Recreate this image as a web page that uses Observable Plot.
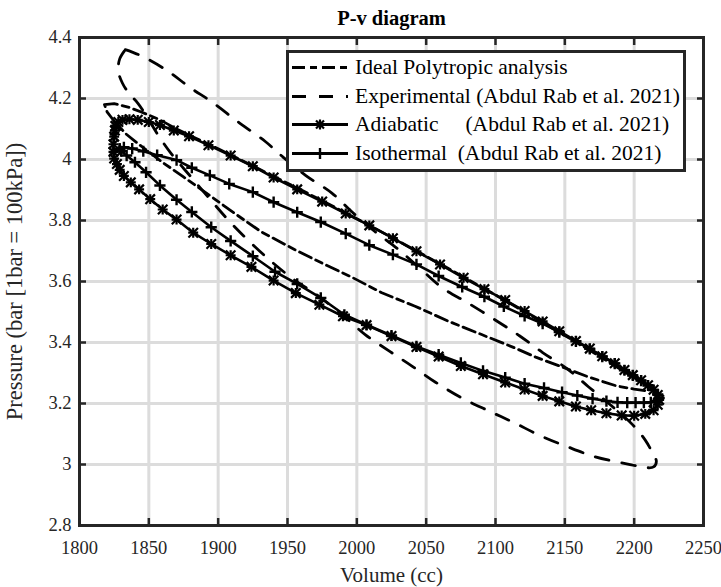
<!DOCTYPE html>
<html><head><meta charset="utf-8">
<script src="https://cdn.jsdelivr.net/npm/d3@7"></script>
<script src="https://cdn.jsdelivr.net/npm/@observablehq/plot@0.6"></script>
<style>
body{margin:0;background:#fff;}
#wrap{position:relative;width:721px;height:587px;}
#legend{position:absolute;left:286px;top:50px;width:394px;height:116px;border:3px solid #262626;background:#fff;font-family:"Liberation Serif",serif;font-size:21.5px;color:#000;}
.row{position:absolute;left:0;width:100%;height:29px;}
.row svg{position:absolute;left:3px;top:0;}
.row span{position:absolute;left:66px;top:0;line-height:29px;white-space:pre;}
</style>
</head><body>
<div id="wrap"><div id="chart"></div>
<div id="legend">
  <div class="row" style="top:0px"><svg width="58" height="29"><line x1="0" y1="14.5" x2="56" y2="14.5" stroke="#000" stroke-width="2.8" stroke-dasharray="13,5,7,5"/></svg><span>Ideal Polytropic analysis</span></div>
  <div class="row" style="top:29px"><svg width="58" height="29"><line x1="0" y1="14.5" x2="56" y2="14.5" stroke="#000" stroke-width="2.8" stroke-dasharray="14,13"/></svg><span>Experimental (Abdul Rab et al. 2021)</span></div>
  <div class="row" style="top:57px"><svg width="58" height="29"><line x1="0" y1="14.5" x2="56" y2="14.5" stroke="#000" stroke-width="2.8"/><path d="M24,10.5L32,18.5M24,18.5L32,10.5M28,9.5V19.5M23,14.5H33" stroke="#000" stroke-width="2.2" fill="none"/></svg><span>Adiabatic     (Abdul Rab et al. 2021)</span></div>
  <div class="row" style="top:86px"><svg width="58" height="29"><line x1="0" y1="14.5" x2="56" y2="14.5" stroke="#000" stroke-width="2.8"/><path d="M28,9V20" stroke="#000" stroke-width="2.4" fill="none"/></svg><span>Isothermal  (Abdul Rab et al. 2021)</span></div>
</div>
</div>
<script>
// Axis ticks
const xTicks = [1800, 1850, 1900, 1950, 2000, 2050, 2100, 2150, 2200, 2250];
const xTickLabels = ["1800", "1850", "1900", "1950", "2000", "2050", "2100", "2150", "2200", "2250"];
const yTicks = [2.8, 3, 3.2, 3.4, 3.6, 3.8, 4, 4.2, 4.4];
const yTickLabels = ["2.8", "3", "3.2", "3.4", "3.6", "3.8", "4", "4.2", "4.4"];

// Ideal Polytropic analysis (dash-dot loop)
const idealV = [1818, 1825, 1835, 1845, 1858, 1870, 1880, 1900, 1920, 1940, 1960, 1980, 2000, 2025, 2050, 2075, 2100, 2125, 2150, 2175, 2195, 2208, 2214,
  2208, 2200, 2187, 2167, 2149, 2129, 2114, 2090, 2066, 2042, 2018, 1996, 1975, 1955, 1931, 1912, 1897, 1875, 1861, 1845, 1834, 1826, 1820, 1818];
const idealP = [4.18, 4.183, 4.172, 4.155, 4.13, 4.1, 4.078, 4.035, 3.99, 3.945, 3.9, 3.853, 3.806, 3.745, 3.683, 3.62, 3.556, 3.49, 3.423, 3.355, 3.298, 3.262, 3.248,
  3.242, 3.247, 3.258, 3.287, 3.318, 3.352, 3.382, 3.426, 3.47, 3.519, 3.563, 3.615, 3.66, 3.705, 3.763, 3.823, 3.872, 3.943, 3.987, 4.042, 4.082, 4.12, 4.155, 4.18];

// Experimental (dashed loop)
const expV = [1833, 1838, 1845, 1863, 1880, 1896, 1915, 1934, 1947, 1963, 1982, 1997, 2013, 2030, 2045, 2062, 2080, 2099, 2117, 2134, 2152, 2167, 2183, 2199, 2208, 2213, 2216, 2214, 2208,
  2198, 2186, 2172, 2152, 2133, 2113, 2095, 2075, 2057, 2040, 2024, 2006, 1991, 1970, 1955, 1940, 1924, 1909, 1895, 1880, 1866, 1856, 1848, 1842, 1836, 1831, 1828, 1829, 1833];
const expP = [4.36, 4.352, 4.339, 4.292, 4.235, 4.187, 4.121, 4.059, 4.007, 3.948, 3.89, 3.826, 3.764, 3.705, 3.645, 3.578, 3.53, 3.476, 3.423, 3.367, 3.313, 3.255, 3.195, 3.13, 3.08, 3.04, 3.01, 2.992, 2.99,
  2.999, 3.01, 3.025, 3.058, 3.093, 3.138, 3.176, 3.22, 3.269, 3.322, 3.37, 3.426, 3.485, 3.56, 3.605, 3.659, 3.725, 3.793, 3.865, 3.945, 4.02, 4.085, 4.145, 4.185, 4.215, 4.25, 4.29, 4.33, 4.36];

// Adiabatic (solid, asterisk markers)
const adiaV = [1826, 1828, 1831, 1836, 1842, 1850, 1858, 1868, 1879, 1893, 1909, 1925, 1940, 1957, 1975, 1992, 2009, 2026, 2043, 2060, 2077, 2092, 2107, 2121, 2134, 2146, 2158, 2168, 2177, 2186, 2193, 2199, 2205, 2210, 2214, 2217, 2218,
  2217, 2214, 2208, 2200, 2191, 2180, 2169, 2158, 2146, 2134, 2121, 2107, 2091, 2075, 2059, 2043, 2025, 2007, 1990, 1973, 1956, 1940, 1924, 1909, 1895, 1882, 1870, 1860, 1851, 1843, 1837, 1832, 1829, 1827, 1825, 1824.5, 1824.5, 1825, 1825.5, 1826];
const adiaP = [4.11, 4.123, 4.13, 4.132, 4.13, 4.123, 4.113, 4.095, 4.076, 4.047, 4.013, 3.978, 3.941, 3.902, 3.862, 3.823, 3.784, 3.742, 3.699, 3.656, 3.612, 3.575, 3.539, 3.503, 3.469, 3.437, 3.405, 3.38, 3.355, 3.332, 3.31, 3.293, 3.276, 3.26, 3.245, 3.228, 3.212,
  3.196, 3.178, 3.166, 3.16, 3.161, 3.168, 3.178, 3.19, 3.207, 3.225, 3.246, 3.269, 3.296, 3.323, 3.354, 3.385, 3.421, 3.457, 3.486, 3.524, 3.562, 3.603, 3.648, 3.686, 3.723, 3.76, 3.803, 3.836, 3.87, 3.902, 3.925, 3.946, 3.966, 3.985, 4.003, 4.025, 4.05, 4.075, 4.095, 4.11];

// Isothermal (solid, plus markers)
const isoV = [1829, 1832, 1838, 1846, 1856, 1870, 1881, 1894, 1908, 1925, 1940, 1957, 1974, 1992, 2009, 2026, 2043, 2059, 2076, 2092, 2106, 2121, 2134, 2146, 2158, 2168, 2177, 2186, 2193, 2199, 2205, 2210, 2214, 2217, 2218, 2216,
  2212, 2207, 2201, 2195, 2188, 2180, 2170, 2159, 2148, 2135, 2121, 2107, 2091, 2075, 2059, 2043, 2025, 2007, 1991, 1974, 1957, 1941, 1925, 1909, 1895, 1881, 1870, 1858, 1848, 1840, 1834, 1830, 1829];
const isoP = [4.035, 4.04, 4.036, 4.027, 4.014, 3.998, 3.973, 3.948, 3.92, 3.893, 3.86, 3.827, 3.795, 3.757, 3.719, 3.688, 3.656, 3.618, 3.582, 3.55, 3.518, 3.487, 3.462, 3.434, 3.404, 3.379, 3.354, 3.331, 3.309, 3.292, 3.275, 3.259, 3.244, 3.23, 3.218, 3.208,
  3.204, 3.203, 3.203, 3.203, 3.204, 3.208, 3.216, 3.226, 3.237, 3.251, 3.265, 3.285, 3.307, 3.333, 3.36, 3.387, 3.423, 3.458, 3.491, 3.546, 3.592, 3.632, 3.683, 3.733, 3.778, 3.828, 3.868, 3.915, 3.958, 3.991, 4.013, 4.027, 4.035];

const rows = (V, P) => V.map((v, i) => ({v, p: P[i]}));
const ideal = rows(idealV, idealP), expt = rows(expV, expP), adia = rows(adiaV, adiaP), iso = rows(isoV, isoP);

const dark = "#262626";
const chart = Plot.plot({
  width: 721, height: 587,
  marginLeft: 79, marginRight: 18, marginTop: 37, marginBottom: 62,
  style: {fontFamily: "'Liberation Serif', serif", fontSize: "18.5px", color: dark, background: "#fff", overflow: "visible"},
  x: {domain: [1800, 2250]},
  y: {domain: [2.8, 4.4]},
  marks: [
    Plot.gridX(xTicks, {stroke: "#dcdcdc", strokeOpacity: 1, strokeWidth: 3}),
    Plot.gridY(yTicks, {stroke: "#dcdcdc", strokeOpacity: 1, strokeWidth: 3}),
    Plot.line(ideal, {x: "v", y: "p", stroke: "#000", strokeWidth: 2.8, strokeDasharray: "13,5,7,5"}),
    Plot.line(expt, {x: "v", y: "p", stroke: "#000", strokeWidth: 2.8, strokeDasharray: "14,13", curve: "catmull-rom"}),
    Plot.line(adia, {x: "v", y: "p", stroke: "#000", strokeWidth: 2.6}),
    Plot.dot(adia, {x: "v", y: "p", symbol: "times", r: 4.4, stroke: "#000", strokeWidth: 2.2}),
    Plot.dot(adia, {x: "v", y: "p", symbol: "plus", r: 3.3, stroke: "#000", strokeWidth: 2.2}),
    Plot.line(iso, {x: "v", y: "p", stroke: "#000", strokeWidth: 2.6}),
    Plot.dot(iso, {x: "v", y: "p", symbol: "plus", r: 3.7, stroke: "#000", strokeWidth: 2.4}),
    Plot.frame({stroke: dark, strokeWidth: 3}),
    Plot.axisX(xTicks, {anchor: "bottom", tickSize: -7, tickPadding: 22, tickFormat: d => xTickLabels[xTicks.indexOf(d)], stroke: dark, strokeWidth: 2.5, label: null}),
    Plot.axisX(xTicks, {anchor: "top", tickSize: -7, tickFormat: () => "", stroke: dark, strokeWidth: 2.5, label: null}),
    Plot.axisY(yTicks, {anchor: "left", tickSize: -7, tickPadding: 15, tickFormat: d => yTickLabels[yTicks.indexOf(d)], stroke: dark, strokeWidth: 2.5, label: null}),
    Plot.axisY(yTicks, {anchor: "right", tickSize: -7, tickFormat: () => "", stroke: dark, strokeWidth: 2.5, label: null}),
    Plot.text(["P-v diagram"], {frameAnchor: "top", dy: -19, lineAnchor: "middle", textAnchor: "middle", fontWeight: "bold", fontSize: 20.5, fill: "#000"}),
    Plot.text(["Volume (cc)"], {frameAnchor: "bottom", dy: 50, lineAnchor: "middle", textAnchor: "middle", fontSize: 21, fill: dark}),
    Plot.text(["Pressure (bar [1bar = 100kPa])"], {frameAnchor: "left", dx: -65, rotate: -90, lineAnchor: "middle", textAnchor: "middle", fontSize: 22.5, fill: dark})
  ]
});
document.getElementById("chart").appendChild(chart);
</script>
</body></html>
